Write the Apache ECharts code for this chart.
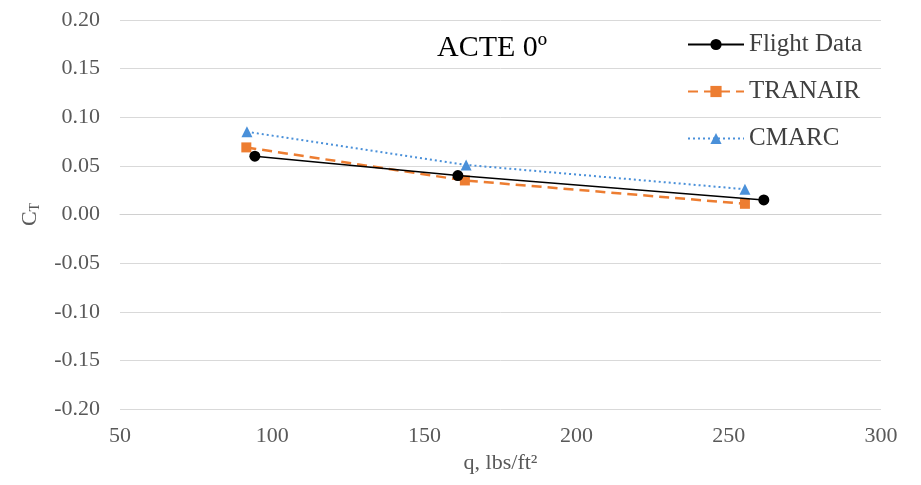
<!DOCTYPE html>
<html><head><meta charset="utf-8">
<script src="https://cdn.jsdelivr.net/npm/echarts@6/dist/echarts.min.js"></script>
<style>html,body{margin:0;padding:0;background:#fff}#c{width:921px;height:485px}</style>
</head><body><div id="c"></div>
<script>
const seriesNames = ['Flight Data', 'TRANAIR', 'CMARC'];
const flightData = [[94.3, 0.060], [161, 0.040], [261.5, 0.015]];
const tranairData = [[91.5, 0.069], [163.3, 0.035], [255.3, 0.011]];
const cmarcData = [[91.7, 0.085], [163.7, 0.051], [255.3, 0.026]];
const xTicks = [50, 100, 150, 200, 250, 300];
const yTicks = [-0.20, -0.15, -0.10, -0.05, 0.00, 0.05, 0.10, 0.15, 0.20];

const font = 'Liberation Serif';
const chart = echarts.init(document.getElementById('c'), null, {renderer: 'canvas'});
chart.setOption({
  animation: false,
  backgroundColor: '#fff',
  title: {
    text: 'ACTE 0º', left: 432, top: 28,
    textStyle: {fontFamily: font, fontSize: 30, fontWeight: 'normal', color: '#000'}
  },
  legend: {
    data: seriesNames, orient: 'vertical', left: 682, top: 27,
    itemWidth: 56, itemHeight: 14, itemGap: 22,
    textStyle: {fontFamily: font, fontSize: 25, color: '#404040'}
  },
  grid: {left: 120, right: 40, top: 20, bottom: 76},
  xAxis: {
    type: 'value', min: xTicks[0], max: xTicks[xTicks.length - 1], interval: 50,
    name: 'q, lbs/ft²', nameLocation: 'middle', nameGap: 43,
    nameTextStyle: {fontFamily: font, fontSize: 22, color: '#595959'},
    axisLine: {lineStyle: {color: '#d0d0d0'}},
    axisTick: {show: false},
    axisLabel: {fontFamily: font, fontSize: 22, color: '#595959', margin: 16},
    splitLine: {show: false}
  },
  yAxis: {
    type: 'value', min: yTicks[0], max: yTicks[yTicks.length - 1], interval: 0.05,
    name: 'C{s|T}', nameLocation: 'middle', nameGap: 78, nameRotate: 90,
    nameTextStyle: {fontFamily: font, fontSize: 22, color: '#595959',
      rich: {s: {fontFamily: font, fontSize: 14, color: '#595959', verticalAlign: 'bottom', padding: [10, 0, 0, 0]}}},
    axisLine: {show: false},
    axisTick: {show: false},
    axisLabel: {fontFamily: font, fontSize: 22, color: '#595959', margin: 20, formatter: v => v.toFixed(2)},
    splitLine: {lineStyle: {color: '#d9d9d9', width: 1}}
  },
  series: [
    {name: seriesNames[0], type: 'line', data: flightData, symbol: 'circle', symbolSize: 11,
     itemStyle: {color: '#000'}, lineStyle: {color: '#000', width: 1.5}, z: 3},
    {name: seriesNames[1], type: 'line', data: tranairData, symbol: 'rect', symbolSize: 10,
     itemStyle: {color: '#ED7D31'}, lineStyle: {color: '#ED7D31', width: 2.5, type: [10, 6]}, z: 2},
    {name: seriesNames[2], type: 'line', data: cmarcData, symbol: 'triangle', symbolSize: 11,
     itemStyle: {color: '#4A90D9'}, lineStyle: {color: '#4A90D9', width: 2, type: [2, 3]}, z: 1}
  ]
});
</script></body></html>
